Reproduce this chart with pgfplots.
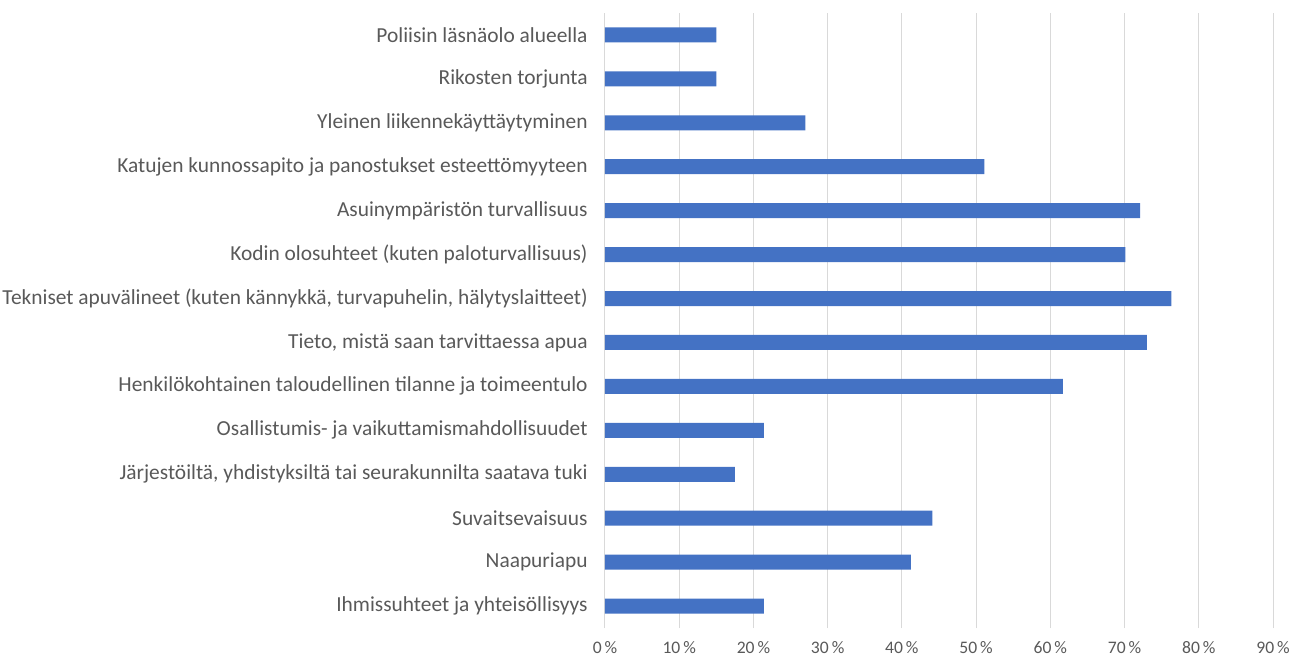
\documentclass[border=0pt]{standalone}
\usepackage{pgfplots}
\pgfplotsset{compat=1.18}
\usepackage{pgfplotstable}
\usepackage{fontspec}
\setmainfont{Carlito}
\definecolor{barblue}{HTML}{4472C4}
\definecolor{gridgray}{HTML}{D9D9D9}
\definecolor{labgray}{HTML}{595959}
\pgfplotstableread{
y val
0 21.4
1 41.2
2 44.1
3 17.5
4 21.4
5 61.7
6 73.0
7 76.3
8 70.1
9 72.1
10 51.1
11 27.0
12 15.0
13 15.0
}\datatable
\begin{document}
\begin{tikzpicture}
\begin{axis}[
  scale only axis,
  width=334pt, height=307.5pt,
  xbar, bar width=7.5pt,
  xmin=0, xmax=90,
  ymin=-0.5, ymax=13.5,
  xtick={0,10,...,90},
  ytick={0,...,13},
  yticklabels={
    Ihmissuhteet ja yhteisöllisyys,
    Naapuriapu,
    Suvaitsevaisuus,
    {Järjestöiltä, yhdistyksiltä tai seurakunnilta saatava tuki},
    Osallistumis- ja vaikuttamismahdollisuudet,
    Henkilökohtainen taloudellinen tilanne ja toimeentulo,
    {Tieto, mistä saan tarvittaessa apua},
    {Tekniset apuvälineet (kuten kännykkä, turvapuhelin, hälytyslaitteet)},
    Kodin olosuhteet (kuten paloturvallisuus),
    Asuinympäristön turvallisuus,
    Katujen kunnossapito ja panostukset esteettömyyteen,
    Yleinen liikennekäyttäytyminen,
    Rikosten torjunta,
    Poliisin läsnäolo alueella},
  xticklabel={\pgfmathprintnumber{\tick}\,\%},
  /pgf/number format/assume math mode=true,
  xmajorgrids,
  grid style={gridgray, line width=0.5pt},
  axis line style={draw=none},
  major tick length=0pt,
  yticklabel style={font=\fontsize{10.7pt}{12pt}\selectfont, text=labgray, inner sep=0pt, xshift=-8.5pt},
  xticklabel style={font=\fontsize{8.8pt}{10pt}\selectfont, text=labgray, inner sep=0pt, yshift=-6.5pt},
]
\addplot[fill=barblue, draw=none] table[x=val, y=y] {\datatable};
\end{axis}
\pgfresetboundingbox
\path (-302.5pt,-15.5pt) rectangle (344pt,314pt);
\end{tikzpicture}
\end{document}
